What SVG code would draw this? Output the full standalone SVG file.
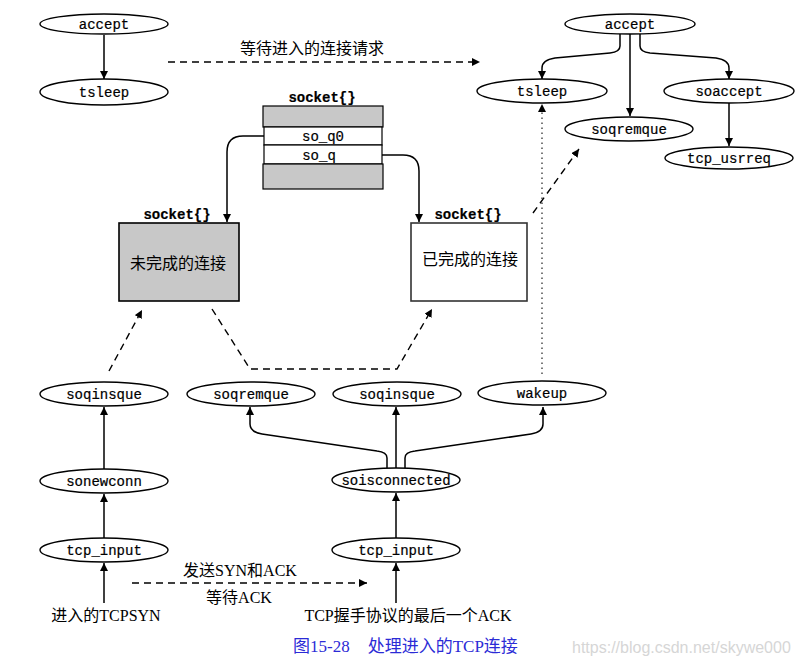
<svg xmlns="http://www.w3.org/2000/svg" width="806" height="666" viewBox="0 0 806 666">
<defs>
<marker id="ah" viewBox="0 0 10 10" refX="10" refY="5" markerWidth="8" markerHeight="8" markerUnits="userSpaceOnUse" orient="auto">
<path d="M0,0 L10,5 L0,10 z" fill="#000"/>
</marker>
<style>
.n ellipse{fill:#fff;stroke:#000;stroke-width:1.4}
.mono{font-family:"Liberation Mono","DejaVu Sans Mono",monospace;font-size:14px;fill:#000;stroke:#000;stroke-width:0.2;text-anchor:middle}
.bold{font-weight:bold;stroke-width:0.2}
.cj{font-family:"Liberation Serif","Noto Sans CJK SC",serif;font-size:16px;fill:#000;text-anchor:middle}
.e{fill:none;stroke:#000;stroke-width:1.5}
.d{fill:none;stroke:#000;stroke-width:1.4;stroke-dasharray:7,5}
.dot{fill:none;stroke:#333;stroke-width:1.3;stroke-dasharray:1.5,3.5}
</style>
</defs>
<rect width="806" height="666" fill="#fff"/>

<g id="connectors">
<path class="e" d="M104,35 V79" marker-end="url(#ah)"/>
<path class="d" d="M168,62 H480" marker-end="url(#ah)"/>
<path class="e" d="M620,34 V46 Q620,52 610,53 L555,58 Q542,60 542,68 V79" marker-end="url(#ah)"/>
<path class="e" d="M630,34 V116" marker-end="url(#ah)"/>
<path class="e" d="M640,34 V46 Q640,52 650,53 L716,58 Q729,60 729,68 V79" marker-end="url(#ah)"/>
<path class="e" d="M729,103 V146" marker-end="url(#ah)"/>
<path class="e" d="M275,136 H243 Q227,136 227,152 V222" marker-end="url(#ah)"/>
<path class="e" d="M377,155 H403 Q419,155 419,171 V222" marker-end="url(#ah)"/>
<path class="d" d="M533,213 L579,149" marker-end="url(#ah)"/>
<path class="dot" d="M542,374 V104" marker-end="url(#ah)"/>
<path class="d" d="M109,371 L142,310" marker-end="url(#ah)"/>
<path class="d" d="M212,309 L250,369 H397 L432,309" marker-end="url(#ah)"/>
<path class="e" d="M104,469 V407" marker-end="url(#ah)"/>
<path class="e" d="M104,538 V494" marker-end="url(#ah)"/>
<path class="e" d="M104,603 V563" marker-end="url(#ah)"/>
<path class="e" d="M387,468 V458 Q387,452 377,451 L262,434 Q250,432 250,424 V407" marker-end="url(#ah)"/>
<path class="e" d="M396,468 V407" marker-end="url(#ah)"/>
<path class="e" d="M405,468 V458 Q405,452 415,451 L531,434 Q543,432 543,424 V407" marker-end="url(#ah)"/>
<path class="e" d="M396,538 V493" marker-end="url(#ah)"/>
<path class="e" d="M396,603 V563" marker-end="url(#ah)"/>
<path class="d" d="M132,583 H367" marker-end="url(#ah)"/>
</g>

<g id="accept-left" class="n"><ellipse cx="104" cy="24" rx="64" ry="10"/><text class="mono" x="104" y="29">accept</text></g>
<g id="tsleep-left" class="n"><ellipse cx="104" cy="92" rx="64" ry="13"/><text class="mono" x="104" y="97">tsleep</text></g>
<text class="cj" x="312" y="54">等待进入的连接请求</text>

<g id="accept-right" class="n"><ellipse cx="630" cy="24" rx="65" ry="10"/><text class="mono" x="630" y="29">accept</text></g>
<g id="tsleep-right" class="n"><ellipse cx="542" cy="91" rx="65" ry="12"/><text class="mono" x="542" y="96">tsleep</text></g>
<g id="soqremque-top" class="n"><ellipse cx="629" cy="129" rx="64" ry="12"/><text class="mono" x="629" y="134">soqremque</text></g>
<g id="soaccept" class="n"><ellipse cx="729" cy="91" rx="65" ry="12"/><text class="mono" x="729" y="96">soaccept</text></g>
<g id="tcp_usrreq" class="n"><ellipse cx="729" cy="158" rx="64" ry="11"/><text class="mono" x="729" y="163">tcp_usrreq</text></g>

<g id="socket-struct">
<text class="mono bold" x="322" y="102">socket{}</text>
<rect x="263" y="106" width="120" height="21" fill="#c8c8c8" stroke="#000" stroke-width="1.2"/>
<rect x="264" y="127" width="118" height="18" fill="#fff" stroke="#000" stroke-width="1.2"/>
<rect x="264" y="145" width="118" height="19" fill="#fff" stroke="#000" stroke-width="1.2"/>
<rect x="263" y="164" width="120" height="25" fill="#c8c8c8" stroke="#000" stroke-width="1.2"/>
<text class="mono" x="323" y="141">so_q0</text>
<text class="mono" x="319" y="160">so_q</text>
</g>

<g id="incomplete">
<text class="mono bold" x="177" y="219">socket{}</text>
<rect x="119" y="223" width="120" height="78" fill="#c8c8c8" stroke="#000" stroke-width="1.6"/>
<text class="cj" x="178" y="269">未完成的连接</text>
</g>
<g id="complete">
<text class="mono bold" x="468" y="219">socket{}</text>
<rect x="411" y="223" width="116" height="78" fill="#fff" stroke="#333" stroke-width="1.6"/>
<text class="cj" x="470" y="265">已完成的连接</text>
</g>

<g id="soqinsque-left" class="n"><ellipse cx="104" cy="394" rx="64" ry="12"/><text class="mono" x="104" y="399">soqinsque</text></g>
<g id="soqremque-mid" class="n"><ellipse cx="251" cy="394" rx="64" ry="12"/><text class="mono" x="251" y="399">soqremque</text></g>
<g id="soqinsque-mid" class="n"><ellipse cx="397" cy="394" rx="64" ry="12"/><text class="mono" x="397" y="399">soqinsque</text></g>
<g id="wakeup" class="n"><ellipse cx="542" cy="393" rx="64" ry="12"/><text class="mono" x="542" y="398">wakeup</text></g>
<g id="sonewconn" class="n"><ellipse cx="104" cy="481" rx="64" ry="12"/><text class="mono" x="104" y="486">sonewconn</text></g>
<g id="soisconnected" class="n"><ellipse cx="396" cy="480" rx="64" ry="12"/><text class="mono" x="396" y="485">soisconnected</text></g>
<g id="tcp_input-left" class="n"><ellipse cx="104" cy="550" rx="64" ry="12"/><text class="mono" x="104" y="555">tcp_input</text></g>
<g id="tcp_input-right" class="n"><ellipse cx="396" cy="550" rx="64" ry="12"/><text class="mono" x="396" y="555">tcp_input</text></g>

<text class="cj" x="240" y="576">发送SYN和ACK</text>
<text class="cj" x="239" y="603">等待ACK</text>
<text class="cj" x="106" y="621">进入的TCPSYN</text>
<text class="cj" x="408" y="621">TCP握手协议的最后一个ACK</text>

<text class="cj" x="293" y="652" style="fill:#2b2bd6;text-anchor:start;font-size:17px">图15-28<tspan dx="18">处理进入的TCP连接</tspan></text>
<text x="572" y="653" style="font-family:'Liberation Sans',sans-serif;font-size:16px;fill:#d6d6d6">https://blog.csdn.net/skywe000</text>
</svg>
